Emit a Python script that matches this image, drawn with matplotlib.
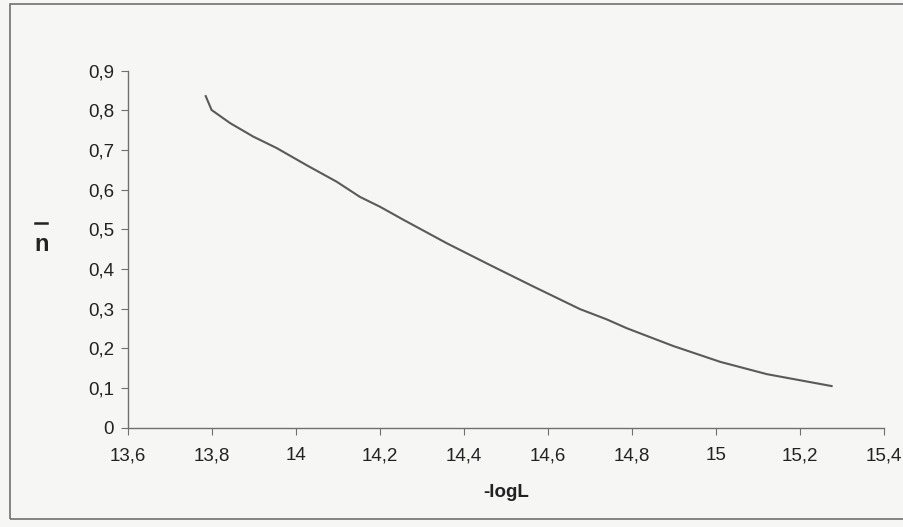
import matplotlib
matplotlib.use("Agg")
import matplotlib.pyplot as plt
from matplotlib.ticker import FuncFormatter, MultipleLocator
from matplotlib.patches import Rectangle
from matplotlib.lines import Line2D

plt.rcParams['font.family'] = ['Liberation Sans', 'DejaVu Sans']

# values
log_l = [13.785, 13.799, 13.843, 13.898, 13.954, 14.025, 14.097, 14.152, 14.2,
         14.256, 14.359, 14.462, 14.565, 14.676, 14.74, 14.787, 14.898, 15.010,
         15.121, 15.275]
n_bar = [0.836, 0.801, 0.768, 0.734, 0.705, 0.662, 0.620, 0.582, 0.557,
         0.524, 0.465, 0.410, 0.356, 0.299, 0.273, 0.251, 0.206, 0.166,
         0.135, 0.105]

W, H = 904, 527
bg = '#f6f6f4'
fig = plt.figure(figsize=(W / 100, H / 100), dpi=100, facecolor=bg)
ax = fig.add_axes([0.1416, 0.1884, 0.8364, 0.6774])
ax.set_facecolor(bg)

ax.plot(log_l, n_bar, color='#5a5a5a', lw=1.5)

ax.set_xlim(13.6, 15.4)
ax.set_ylim(0, 0.9)
ax.xaxis.set_major_locator(MultipleLocator(0.2))
ax.yaxis.set_major_locator(MultipleLocator(0.1))

def comma(v, pos):
    s = f"{v:.1f}".rstrip('0').rstrip('.')
    return s.replace('.', ',')

ax.xaxis.set_major_formatter(FuncFormatter(comma))
ax.yaxis.set_major_formatter(FuncFormatter(comma))

for side in ['top', 'right']:
    ax.spines[side].set_visible(False)
for side in ['left', 'bottom']:
    ax.spines[side].set_color('#707070')
    ax.spines[side].set_linewidth(1.0)

ax.tick_params(axis='both', direction='out', length=5, color='#707070',
               labelsize=13.5, labelcolor='#222222')
ax.tick_params(axis='x', pad=9)
ax.tick_params(axis='y', pad=5)

ax.set_xlabel('-logL', fontsize=13.5, fontweight='bold', color='#222222', labelpad=14)

# y label: bold n with a detached bar above it, as in the scan
fig.text(42 / W, 1 - 251 / H, 'n', ha='center', va='baseline', fontsize=17,
         fontweight='bold', color='#222222')
fig.add_artist(Line2D([35 / W, 47 / W], [1 - 223 / H, 1 - 223 / H],
                      transform=fig.transFigure, color='#222222', lw=1.8))

# outer chart border (right side runs off the scan)
fig.patches.append(Rectangle((10 / W, 1 - 519 / H), 1.0, (519 - 4) / H,
                             transform=fig.transFigure, fill=False,
                             edgecolor='#707070', lw=1.2, clip_on=False))

fig.savefig('out.png', dpi=100, facecolor=bg)
